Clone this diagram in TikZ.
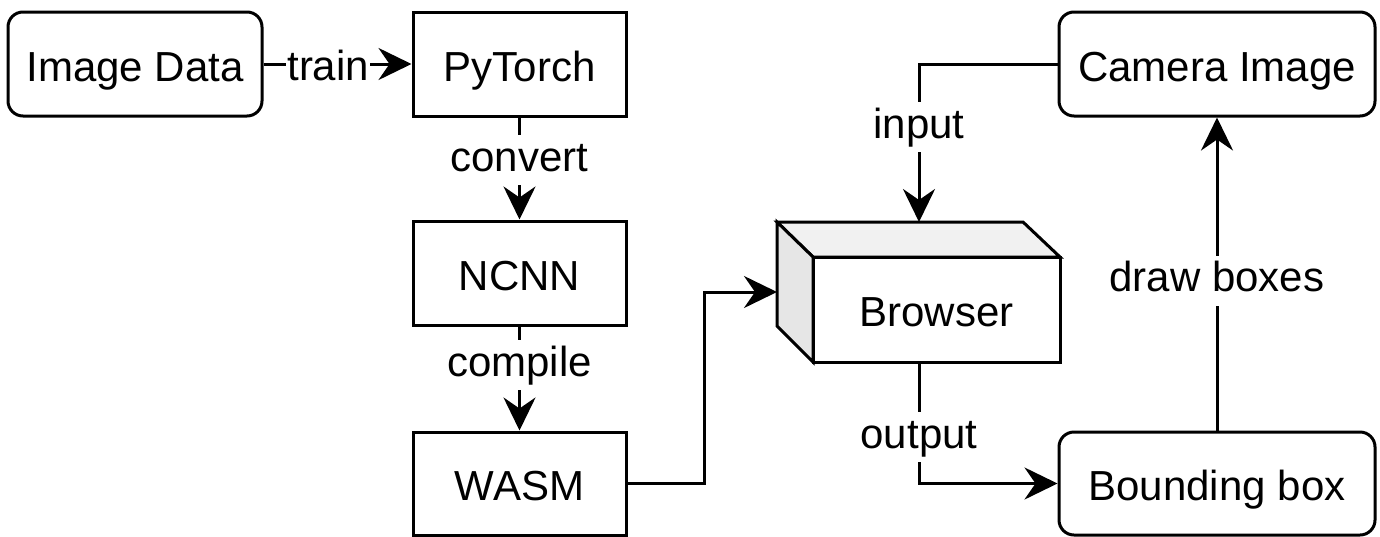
\documentclass[tikz,border=0pt]{standalone}
\usepackage{fontspec}
\setmainfont{Liberation Sans}
\usetikzlibrary{arrows.meta}
\definecolor{topgray}{HTML}{F1F1F1}
\definecolor{sidegray}{HTML}{E6E6E6}
\begin{document}
\begin{tikzpicture}[x=1pt,y=-1pt,line width=3pt,
  box/.style={draw,line width=3pt,fill=white,minimum height=104pt,inner sep=0pt,
    text height=34pt,text depth=0pt,font=\fontsize{42}{50}\selectfont},
  rbox/.style={box,rounded corners=15pt},
  lbl/.style={fill=white,inner xsep=1pt,inner ysep=5pt,text height=31pt,text depth=9pt,
    anchor=base,yshift=-11pt,font=\fontsize{42}{50}\selectfont},
  arr/.style={-{Stealth[length=33pt,width=32pt,inset=11pt]}}]
\useasboundingbox (0,0) rectangle (1380,536);
% boxes
\node[rbox,minimum width=254pt] (img) at (135,64) {Image Data};
\node[box,minimum width=213pt] (pyt) at (519.5,64) {PyTorch};
\node[box,minimum width=213pt] (ncnn) at (519.5,273) {NCNN};
\node[box,minimum width=213pt,minimum height=103pt] (wasm) at (519.5,483.5) {WASM};
\node[rbox,minimum width=316pt] (cam) at (1217,64) {Camera Image};
\node[rbox,minimum width=316pt,minimum height=103pt] (bbox) at (1217,483.5) {Bounding box};
% browser cube
\coordinate (c1) at (777,222);
\coordinate (c2) at (1023,222);
\coordinate (c3) at (1060,257);
\coordinate (c4) at (813,257);
\coordinate (c5) at (813,362);
\coordinate (c6) at (777,326);
\filldraw[fill=topgray] (c1) -- (c2) -- (c3) -- (c4) -- cycle;
\filldraw[fill=sidegray] (c1) -- (c4) -- (c5) -- (c6) -- cycle;
\node[box,minimum width=247pt,minimum height=105pt] (browser) at (936.5,309.5) {Browser};
\coordinate (btop) at (919,222);
\coordinate (bleft) at (777,292);
\coordinate (bbot) at (919,362);
% connectors
\draw[arr] (img) -- node[lbl,pos=0.437,yshift=-5pt] {train} (pyt);
\draw[arr] (pyt) -- node[lbl,pos=0.42] {convert} (ncnn);
\draw[arr] (ncnn) -- node[lbl,pos=0.374] {compile} (wasm);
\draw[arr] (wasm.east) -- ++(77,0) |- (bleft);
\draw[arr] (cam.west) -| node[lbl,pos=0.70] {input} (btop);
\draw[arr] (bbot) |- node[lbl,pos=0.31] {output} (bbox.west);
\draw[arr] (bbox) -- node[lbl,pos=0.478] {draw boxes} (cam);
\end{tikzpicture}
\end{document}
